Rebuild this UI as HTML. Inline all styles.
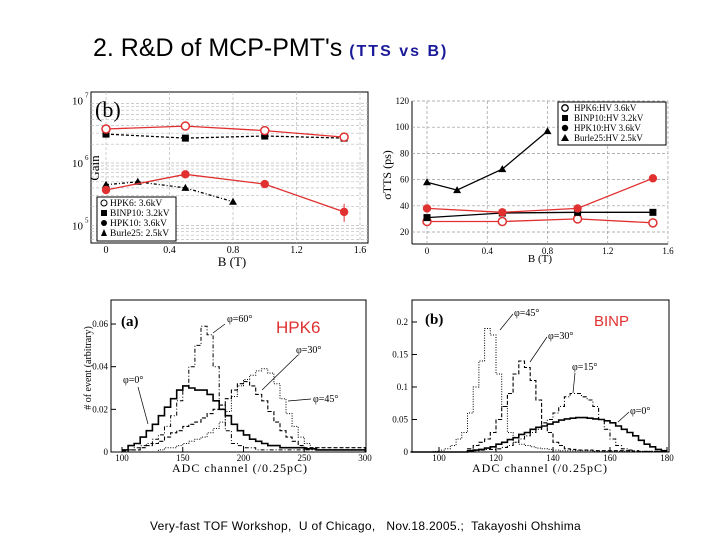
<!DOCTYPE html>
<html><head><meta charset="utf-8"><style>
body{margin:0;background:#fff;}
#wrap{position:relative;width:720px;height:540px;overflow:hidden;font-family:"Liberation Sans",sans-serif;}
.t{position:absolute;white-space:nowrap;}
</style></head><body>
<div id="wrap">
<div class="t" style="left:93px;top:34px;font-size:25px;color:#000;">2. R&amp;D of MCP-PMT's <span style="font-size:16px;font-weight:bold;color:#1a1a9a;letter-spacing:2px;">(TTS vs B)</span></div>
<div class="t" style="left:150px;top:519px;font-size:12px;letter-spacing:0.3px;color:#000;">Very-fast TOF Workshop,&nbsp; U of Chicago,&nbsp;&nbsp; Nov.18.2005.;&nbsp; Takayoshi Ohshima</div>
<svg id="svg" width="720" height="540" style="position:absolute;left:0;top:0"></svg>
</div>
<script>
// ---------- data ----------
var gainB=[0,0.5,1.0,1.5];
var gainHPK6=[3.5e6,3.9e6,3.3e6,2.6e6];
var gainBINP10=[2.9e6,2.5e6,2.7e6,2.5e6];
var gainHPK10=[3.7e5,6.6e5,4.6e5,1.65e5];
var burleB=[0,0.2,0.5,0.8];
var gainBurle25=[4.5e5,5.0e5,4.0e5,2.4e5];
var ttsHPK6=[28,28,30,27];
var ttsBINP10=[31,34.5,35,35];
var ttsHPK10=[38,35,38,61];
var ttsBurle25=[58,52,68,97];
var bTicks=[0,0.4,0.8,1.2,1.6];
var ttsTicks=[20,40,60,80,100,120];
// HPK6 histograms, bins of 5 from 100
var hpkStart=100, hpkW=5;
var hpkPhi0=[0.001,0.003,0.004,0.007,0.010,0.013,0.017,0.021,0.025,0.029,0.031,0.030,0.029,0.029,0.027,0.024,0.020,0.017,0.013,0.010,0.008,0.006,0.005,0.004,0.003,0.003,0.002,0.002,0.002,0.002,0.0015,0.0015,0.001,0.001,0.001,0.001,0.001,0.001,0.001,0.001];
var hpkPhi60=[0.0005,0.001,0.002,0.003,0.004,0.006,0.008,0.012,0.017,0.024,0.031,0.04,0.05,0.059,0.055,0.04,0.022,0.01,0.004,0.003,0.002,0.002,0.001,0.001,0.001,0.001,0.001,0.001,0.001,0.001,0.001,0.001,0.001,0.001,0.001,0.001,0.001,0.001,0.001,0.001];
var hpkPhi30=[0,0.001,0.001,0.002,0.003,0.004,0.005,0.007,0.009,0.01,0.012,0.013,0.014,0.016,0.018,0.02,0.022,0.025,0.029,0.032,0.033,0.031,0.027,0.024,0.019,0.014,0.01,0.007,0.005,0.003,0.002,0.002,0.002,0.002,0.002,0.002,0.002,0.002,0.002,0.002];
var hpkPhi45=[0,0,0,0,0,0,0.001,0.002,0.002,0.003,0.004,0.005,0.006,0.007,0.009,0.011,0.014,0.019,0.026,0.031,0.034,0.036,0.038,0.039,0.037,0.032,0.025,0.018,0.012,0.007,0.004,0.002,0.001,0.001,0.001,0.001,0.001,0.001,0.001,0.001];
var hpkXTicks=[100,150,200,250,300];
var hpkYTicks=[0,0.02,0.04,0.06];
// BINP histograms, bins of 2 from 90
var binpStart=90, binpW=2;
var binpPhi45=[0,0,0,0,0.001,0.003,0.005,0.01,0.02,0.03,0.06,0.1,0.14,0.19,0.18,0.12,0.07,0.03,0.015,0.012,0.01,0.008,0.006,0.005,0.004,0.003,0.002,0.002,0.002,0.002,0.002,0.002,0.001,0.001,0.001,0.001,0.001,0.001,0.001,0.001,0.001,0.001,0.001,0.001,0.001];
var binpPhi30=[0,0,0,0,0,0,0,0,0,0,0.005,0.01,0.015,0.02,0.03,0.05,0.07,0.09,0.12,0.14,0.13,0.11,0.08,0.04,0.03,0.015,0.01,0.005,0.004,0.003,0.003,0.003,0.002,0.002,0.002,0.002,0.002,0.002,0.002,0.001,0.001,0.001,0.001,0.001,0.001];
var binpPhi15=[0,0,0,0,0,0,0,0,0,0,0.001,0.002,0.003,0.004,0.004,0.005,0.007,0.01,0.015,0.02,0.025,0.03,0.035,0.045,0.05,0.06,0.07,0.085,0.09,0.09,0.085,0.08,0.07,0.05,0.035,0.02,0.01,0.005,0.003,0.002,0.001,0.001,0.001,0.001,0.001];
var binpPhi0=[0,0,0,0,0,0,0,0,0,0,0.002,0.003,0.004,0.006,0.008,0.012,0.015,0.019,0.022,0.027,0.03,0.035,0.038,0.04,0.043,0.046,0.049,0.051,0.052,0.053,0.053,0.052,0.051,0.05,0.048,0.045,0.04,0.035,0.03,0.025,0.018,0.012,0.008,0.004,0.002];
var binpXTicks=[100,120,140,160,180];
var binpYTicks=[0,0.05,0.1,0.15,0.2];

var S=document.getElementById('svg'),NS='http://www.w3.org/2000/svg';
function mk(tag,at,txt){var e=document.createElementNS(NS,tag);for(var k in at)e.setAttribute(k,at[k]);if(txt!==undefined)e.textContent=txt;S.appendChild(e);return e;}
function poly(pts){return pts.map(function(p){return p[0].toFixed(1)+','+p[1].toFixed(1);}).join(' ');}
var serif='"Liberation Serif",serif';

// ---------- panel 1: gain ----------
var gx=function(b){return 106+b*158.75;};
var gy=function(g){return 163-(Math.log10(g)-6)*62.5;};
var e=mk('rect',{x:91,y:92,width:277,height:151,fill:'none',stroke:'#000','stroke-width':1});

for(var d=5;d<=7;d++){for(var m=1;m<10;m++){var yy=gy(m*Math.pow(10,d-1));if(yy<92||yy>243)continue;
 e=mk('line',{x1:91,x2:368,y1:yy,y2:yy,stroke:'#bbb','stroke-dasharray':'3,2','stroke-width':0.7});
 }}
for(var d=5;d<=7;d++){var yy=gy(Math.pow(10,d));if(yy<92)yy=100;
 e=mk('text',{x:72,y:yy+4,'font-family':serif,'font-size':11},'10');
 e=mk('text',{x:85,y:yy-3,'font-family':serif,'font-size':7},String(d));}
bTicks.forEach(function(t){var xx=gx(t);
 e=mk('line',{x1:xx,x2:xx,y1:92,y2:243,stroke:'#bbb','stroke-dasharray':'3,2','stroke-width':0.7});
 e=mk('text',{x:xx,y:253,'text-anchor':'middle','font-family':serif,'font-size':10},String(t));});
e=mk('text',{x:232,y:266,'text-anchor':'middle','font-family':serif,'font-size':13},'B (T)');
e=mk('text',{x:0,y:0,transform:'translate(99,168) rotate(-90)','text-anchor':'middle','font-family':serif,'font-size':13},'Gain');
e=mk('text',{x:95,y:117,'font-family':serif,'font-size':22},'(b)');
function series(xs,ys,fx,fy,col,dash,marker,name){
 var pts=xs.map(function(x,i){return [fx(x),fy(ys[i])];});
 var l=mk('polyline',{points:poly(pts),fill:'none',stroke:col,'stroke-width':1.3,'stroke-dasharray':dash||'none'});
 
 pts.forEach(function(p){var m;
  if(marker=='oc')m=mk('circle',{cx:p[0],cy:p[1],r:4,fill:'#fff',stroke:col,'stroke-width':1.5});
  else if(marker=='c')m=mk('circle',{cx:p[0],cy:p[1],r:4.2,fill:col});
  else if(marker=='s')m=mk('rect',{x:p[0]-3.5,y:p[1]-3.5,width:7,height:7,fill:col});
  else m=mk('polygon',{points:poly([[p[0],p[1]-4],[p[0]-4,p[1]+3],[p[0]+4,p[1]+3]]),fill:col});
  });}
series(gainB,gainBINP10,gx,gy,'#000','3,2','s','gain-binp10');
series(gainB,gainHPK6,gx,gy,'#e03030','','oc','gain-hpk6');
series(burleB,gainBurle25,gx,gy,'#000','3,2,1,2','t','gain-burle25');
series(gainB,gainHPK10,gx,gy,'#e03030','','c','gain-hpk10');
e=mk('line',{x1:gx(1.5),x2:gx(1.5),y1:gy(gainHPK10[3])-8,y2:gy(gainHPK10[3])+10,stroke:'#e03030'});
e=mk('rect',{x:97,y:197,width:79,height:44,fill:'#fff',stroke:'#000'});
['HPK6:    3.6kV','BINP10: 3.2kV','HPK10:  3.6kV','Burle25: 2.5kV'].forEach(function(s,i){var yy=206+i*10;
 var m=['oc','s','c','t'][i],mm;
 if(m=='oc')mm=mk('circle',{cx:104,cy:yy-3,r:3,fill:'#fff',stroke:'#000'});else if(m=='s')mm=mk('rect',{x:101,y:yy-6,width:6,height:6});else if(m=='c')mm=mk('circle',{cx:104,cy:yy-3,r:3});else mm=mk('polygon',{points:poly([[104,yy-7],[101,yy],[107,yy]])});
 
 e=mk('text',{x:110,y:yy,'font-family':serif,'font-size':9.5,'xml:space':'preserve'},s);});

// ---------- panel 2: TTS ----------
var tx=function(b){return 427+b*150.6;};
var ty=function(v){return 232-(v-20)*1.31;};
e=mk('line',{x1:412,x2:412,y1:101,y2:244,stroke:'#000'});
e=mk('line',{x1:412,x2:668,y1:244,y2:244,stroke:'#000'});
ttsTicks.forEach(function(t){var yy=ty(t);
 e=mk('line',{x1:412,x2:668,y1:yy,y2:yy,stroke:'#999','stroke-dasharray':'3,2','stroke-width':0.7});
 e=mk('text',{x:409,y:yy+3,'text-anchor':'end','font-family':serif,'font-size':9},String(t));});
bTicks.forEach(function(t){var xx=tx(t);
 e=mk('line',{x1:xx,x2:xx,y1:101,y2:244,stroke:'#999','stroke-dasharray':'3,2','stroke-width':0.7});
 e=mk('text',{x:xx,y:254,'text-anchor':'middle','font-family':serif,'font-size':9},String(t));});
e=mk('text',{x:540,y:262,'text-anchor':'middle','font-family':serif,'font-size':11},'B (T)');
e=mk('text',{x:0,y:0,transform:'translate(391,175) rotate(-90)','text-anchor':'middle','font-family':serif,'font-size':12},'σTTS (ps)');
series(gainB,ttsHPK6,tx,ty,'#e03030','','oc','tts-hpk6');
series(gainB,ttsBINP10,tx,ty,'#000','','s','tts-binp10');
series(gainB,ttsHPK10,tx,ty,'#e03030','','c','tts-hpk10');
series(burleB,ttsBurle25,tx,ty,'#000','','t','tts-burle25');
e=mk('rect',{x:558,y:102,width:108,height:43,fill:'#fff',stroke:'#000'});
['HPK6:HV 3.6kV','BINP10:HV 3.2kV','HPK10:HV 3.6kV','Burle25:HV 2.5kV'].forEach(function(s,i){var yy=111+i*10;
 var m=['oc','s','c','t'][i],mm;
 if(m=='oc')mm=mk('circle',{cx:565,cy:yy-3,r:3.2,fill:'#fff',stroke:'#000','stroke-width':1.3});else if(m=='s')mm=mk('rect',{x:562,y:yy-6,width:6,height:6});else if(m=='c')mm=mk('circle',{cx:565,cy:yy-3,r:3.2});else mm=mk('polygon',{points:poly([[565,yy-7],[561,yy],[569,yy]])});
 
 e=mk('text',{x:574,y:yy,'font-family':serif,'font-size':9},s);});

// ---------- histogram helper ----------
function hist(vals,start,w,fx,fy,dash,width,name){
 var pts=[];vals.forEach(function(v,i){var x0=fx(start+i*w),x1=fx(start+(i+1)*w),y=fy(v);pts.push([x0,y],[x1,y]);});
 var l=mk('polyline',{points:poly(pts),fill:'none',stroke:'#000','stroke-width':width,'stroke-dasharray':dash||'none'});
 }

// ---------- panel 3: HPK6 ----------
var hx=function(v){return 122+(v-100)*1.215;};
var hy=function(v){return 452-v*2133;};
e=mk('rect',{x:111,y:300,width:255,height:152,fill:'none',stroke:'#000'});
hpkYTicks.forEach(function(t){var yy=hy(t);
 e=mk('line',{x1:111,x2:116,y1:yy,y2:yy,stroke:'#000'});
 e=mk('text',{x:108,y:yy+3,'text-anchor':'end','font-family':serif,'font-size':9},String(t));});
hpkXTicks.forEach(function(t){var xx=hx(t);
 e=mk('line',{x1:xx,x2:xx,y1:452,y2:447,stroke:'#000'});
 e=mk('text',{x:xx,y:461,'text-anchor':'middle','font-family':serif,'font-size':9},String(t));});
e=mk('text',{x:240,y:472,'text-anchor':'middle','font-family':serif,'font-size':12,'letter-spacing':1},'ADC channel (/0.25pC)');
e=mk('text',{x:0,y:0,transform:'translate(91,368) rotate(-90)','text-anchor':'middle','font-family':serif,'font-size':10},'# of event (arbitrary)');
hist(hpkPhi0,hpkStart,hpkW,hx,hy,'',1.6,'hpk6-phi0-hist');
hist(hpkPhi60,hpkStart,hpkW,hx,hy,'4,2,1,2',1,'hpk6-phi60-hist');
hist(hpkPhi30,hpkStart,hpkW,hx,hy,'4,2',1.1,'hpk6-phi30-hist');
hist(hpkPhi45,hpkStart,hpkW,hx,hy,'1,1.5',1,'hpk6-phi45-hist');
e=mk('text',{x:121,y:326,'font-family':serif,'font-size':15,'font-weight':'bold'},'(a)');
e=mk('text',{x:276,y:333,'font-family':'"Liberation Sans",sans-serif','font-size':17,fill:'#e03030'},'HPK6');
[['φ=60°',227,322,213,333],['φ=30°',296,353,262,390],['φ=45°',313,402,288,401],['φ=0°',123,383,148,424]].forEach(function(a){
 e=mk('text',{x:a[1],y:a[2],'font-family':serif,'font-size':10},a[0]);
 var lx=a[0]=='φ=45°'?a[1]-2:(a[0]=='φ=0°'?a[1]+15:a[1]+ (a[0]=='φ=60°'?-2:2));var ly=a[2]+(a[0]=='φ=0°'?4:(a[0]=='φ=45°'?-3:2));
 e=mk('line',{x1:lx,y1:ly,x2:a[3],y2:a[4],stroke:'#000','stroke-width':0.7});});

// ---------- panel 4: BINP ----------
var bx=function(v){return 439+(v-100)*2.85;};
var by=function(v){return 452-v*650;};
e=mk('rect',{x:412,y:300,width:257,height:152,fill:'none',stroke:'#000'});
binpYTicks.forEach(function(t){var yy=by(t);
 e=mk('line',{x1:412,x2:417,y1:yy,y2:yy,stroke:'#000'});
 e=mk('text',{x:408,y:yy+3,'text-anchor':'end','font-family':serif,'font-size':9},String(t));});
binpXTicks.forEach(function(t){var xx=bx(t);
 e=mk('line',{x1:xx,x2:xx,y1:452,y2:447,stroke:'#000'});
 e=mk('text',{x:xx,y:461,'text-anchor':'middle','font-family':serif,'font-size':9},String(t));});
e=mk('text',{x:540,y:472,'text-anchor':'middle','font-family':serif,'font-size':12,'letter-spacing':1},'ADC channel (/0.25pC)');
hist(binpPhi0,binpStart,binpW,bx,by,'',1.6,'binp-phi0-hist');
hist(binpPhi15,binpStart,binpW,bx,by,'4,2,1,2',1.1,'binp-phi15-hist');
hist(binpPhi30,binpStart,binpW,bx,by,'4,2',1.1,'binp-phi30-hist');
hist(binpPhi45,binpStart,binpW,bx,by,'1,1.5',1,'binp-phi45-hist');
e=mk('text',{x:425,y:324,'font-family':serif,'font-size':15,'font-weight':'bold'},'(b)');
e=mk('text',{x:594,y:326,'font-family':'"Liberation Sans",sans-serif','font-size':15,fill:'#e03030'},'BINP');
[['φ=45°',514,316,500,330],['φ=30°',548,339,530,362],['φ=15°',572,370,573,393],['φ=0°',630,414,618,422]].forEach(function(a){
 e=mk('text',{x:a[1],y:a[2],'font-family':serif,'font-size':10},a[0]);
 var lx=a[1]+(a[0]=='φ=15°'?3:-1),ly=a[2]+(a[0]=='φ=15°'?3:-2);
 e=mk('line',{x1:lx,y1:ly,x2:a[3],y2:a[4],stroke:'#000','stroke-width':0.7});});
</script>
</body></html>
